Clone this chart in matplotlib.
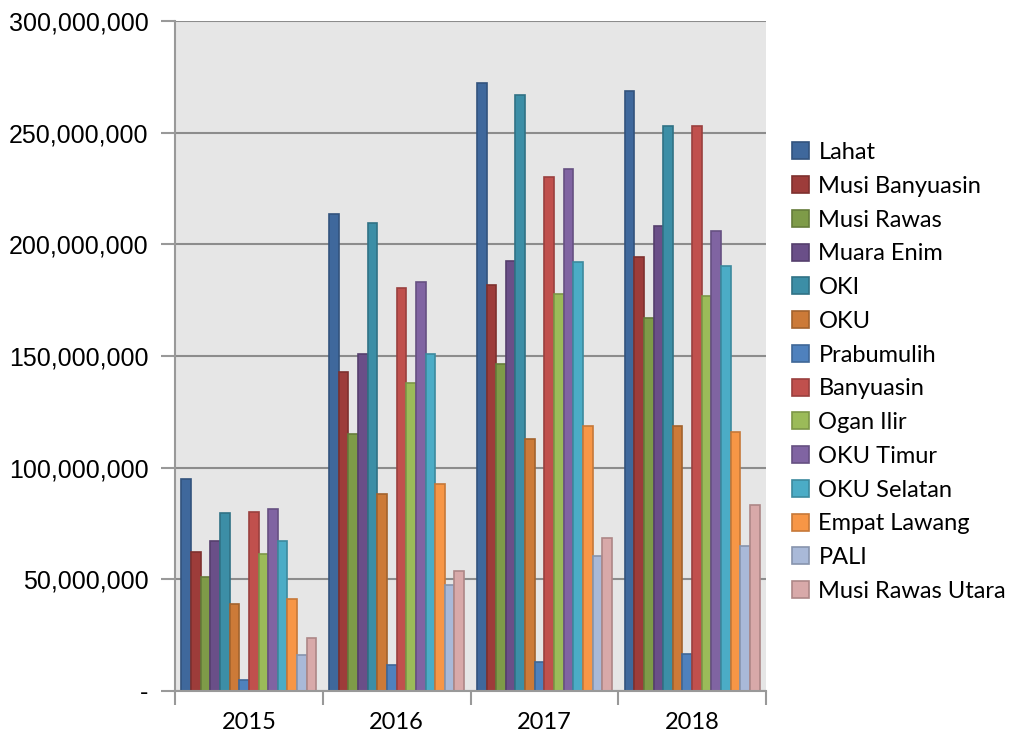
import matplotlib
matplotlib.use("Agg")
import matplotlib.pyplot as plt
import numpy as np
from matplotlib.ticker import FuncFormatter

years = ["2015", "2016", "2017", "2018"]
regions = ["Lahat", "Musi Banyuasin", "Musi Rawas", "Muara Enim", "OKI", "OKU",
           "Prabumulih", "Banyuasin", "Ogan Ilir", "OKU Timur", "OKU Selatan",
           "Empat Lawang", "PALI", "Musi Rawas Utara"]

# values (in rupiah) per region, for 2015..2018
lahat = [95.0e6, 213.6e6, 272.4e6, 268.7e6]
musi_banyuasin = [62.4e6, 142.7e6, 181.6e6, 194.2e6]
musi_rawas = [51.0e6, 115.0e6, 146.4e6, 166.8e6]
muara_enim = [67.2e6, 151.0e6, 192.6e6, 208.1e6]
oki = [79.8e6, 209.6e6, 267.0e6, 253.0e6]
oku = [39.1e6, 88.1e6, 112.8e6, 118.7e6]
prabumulih = [4.9e6, 11.5e6, 12.9e6, 16.4e6]
banyuasin = [80.3e6, 180.5e6, 230.0e6, 253.2e6]
ogan_ilir = [61.2e6, 137.8e6, 177.9e6, 176.9e6]
oku_timur = [81.4e6, 183.3e6, 233.7e6, 205.8e6]
oku_selatan = [67.0e6, 150.8e6, 191.9e6, 190.5e6]
empat_lawang = [41.1e6, 92.8e6, 118.8e6, 115.9e6]
pali = [16.3e6, 47.3e6, 60.4e6, 65.0e6]
musi_rawas_utara = [23.7e6, 53.9e6, 68.6e6, 83.2e6]

series = [lahat, musi_banyuasin, musi_rawas, muara_enim, oki, oku, prabumulih,
          banyuasin, ogan_ilir, oku_timur, oku_selatan, empat_lawang, pali,
          musi_rawas_utara]

colors = ["#3F689C", "#9D3C3A", "#7E9B48", "#6A4F88", "#3C8EA6", "#CC7A38",
          "#4F81BD", "#C0504D", "#9BBB59", "#8064A2", "#4BACC6", "#F79646",
          "#A9B9D8", "#D8A9A9"]

def darker(c, f=0.8):
    r, g, b = matplotlib.colors.to_rgb(c)
    return (r * f, g * f, b * f)

fig = plt.figure(figsize=(10.11, 7.35), dpi=100)
ax = fig.add_axes([175 / 1011, 1 - 691 / 735, (766 - 175) / 1011, (691 - 21) / 735])
ax.set_facecolor("#E6E6E6")

n = len(series)
group_frac = 0.913
w = group_frac / n
x = np.arange(len(years))
for i, (vals, name, c) in enumerate(zip(series, regions, colors)):
    offs = -group_frac / 2 + (i + 0.5) * w
    ax.bar(x + offs, vals, width=w, color=c, edgecolor=darker(c), linewidth=1.2,
           label=name, zorder=3)

ax.set_xlim(-0.5, len(years) - 0.5)
ax.set_ylim(0, 300e6)
ax.set_yticks(np.arange(0, 300e6 + 1, 50e6))
ax.yaxis.set_major_formatter(FuncFormatter(lambda v, p: "-" if v == 0 else f"{int(v):,}"))
ax.grid(axis="y", color="#8C8C8C", linewidth=1.5, zorder=1)
ax.set_axisbelow(True)

ax.set_xticks(x)
ax.set_xticklabels(years, fontfamily="Lato", fontsize=17)
ax.set_xticks(np.arange(-0.5, len(years)), minor=True)
ax.tick_params(axis="x", which="major", length=0, pad=15)
ax.tick_params(axis="x", which="minor", length=10, width=1.5, color="#999999")
ax.tick_params(axis="y", length=10, width=1.5, color="#999999", pad=9)
for lab in ax.get_yticklabels():
    lab.set_fontfamily("Liberation Sans")
    lab.set_fontsize(18)

for s in ["top", "right"]:
    ax.spines[s].set_visible(False)
for s in ["left", "bottom"]:
    ax.spines[s].set_color("#999999")
    ax.spines[s].set_linewidth(1.5)
ax.spines["bottom"].set_zorder(4)

leg = fig.legend(loc="center left", bbox_to_anchor=(792 / 1011, 1 - 372 / 735),
                 frameon=False, prop={"family": "Lato", "size": 17},
                 handlelength=0.72, handleheight=0.72, handletextpad=0.4,
                 labelspacing=0.54, borderaxespad=0, borderpad=0)

fig.savefig("out.png", dpi=100)
